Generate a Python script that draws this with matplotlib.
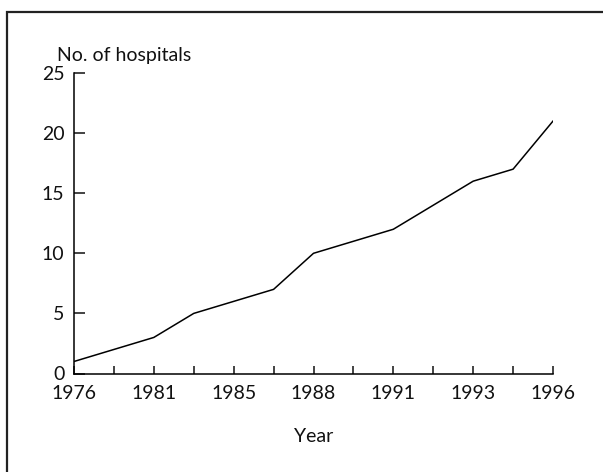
import matplotlib
matplotlib.use("Agg")
import matplotlib.pyplot as plt
from matplotlib.patches import Rectangle

# data (x axis is evenly spaced, labels only on every second tick)
positions = list(range(13))
hospitals = [1, 2, 3, 5, 6, 7, 10, 11, 12, 14, 16, 17, 21]
tick_labels = ["1976", "", "1981", "", "1985", "", "1988", "", "1991", "", "1993", "", "1996"]
y_ticks = [0, 5, 10, 15, 20, 25]

plt.rcParams["font.family"] = ["Lato", "DejaVu Sans"]

W, H = 603, 472
fig = plt.figure(figsize=(W / 100, H / 100), dpi=100)
fig.patches.append(Rectangle((6.5 / W, -0.1), 1.2, 1 - 11.5 / H + 0.1, transform=fig.transFigure,
                             fill=False, edgecolor="#222222", linewidth=1.6))

ax = fig.add_axes([74 / W, 1 - 373.5 / H, (553 - 74) / W, (373.5 - 73) / H])
ax.plot(positions, hospitals, color="black", linewidth=1.1)

ax.set_xlim(0, 12)
ax.set_ylim(0, 25)
ax.set_xticks(positions)
ax.set_xticklabels(tick_labels)
ax.set_yticks(y_ticks)
ax.spines["top"].set_visible(False)
ax.spines["right"].set_visible(False)
for s in ["left", "bottom"]:
    ax.spines[s].set_linewidth(1.1)
ax.tick_params(axis="x", direction="in", length=5.5, width=1.1, pad=8, labelsize=14, colors="#111111")
ax.tick_params(axis="y", direction="in", length=8, width=1.1, pad=7, labelsize=14, colors="#111111")

fig.text(57 / W, 1 - 55 / H, "No. of hospitals", fontsize=14, color="#111111", va="center", ha="left")
fig.text(313.5 / W, 1 - 437 / H, "Year", fontsize=14, color="#111111", va="center", ha="center")

fig.savefig("out.png", dpi=100)
